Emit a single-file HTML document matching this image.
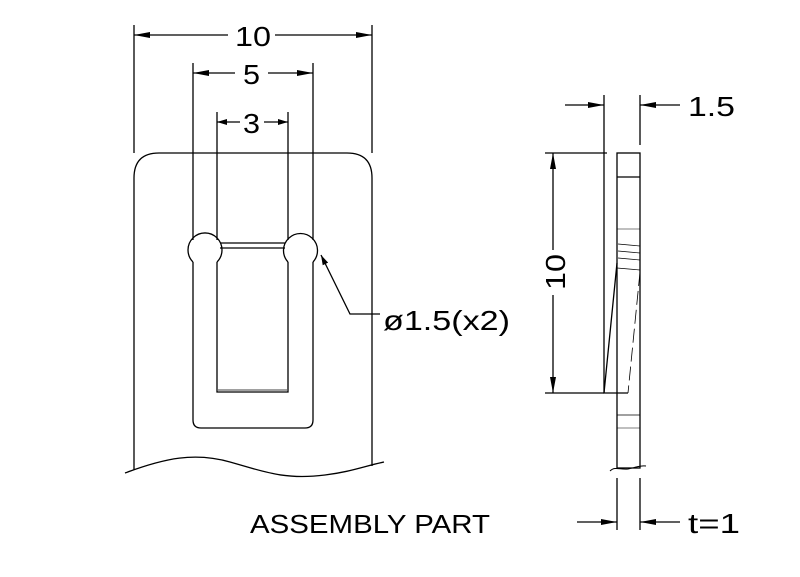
<!DOCTYPE html>
<html><head><style>html,body{margin:0;padding:0;background:#fff}svg{display:block}</style></head><body>
<svg width="800" height="577" viewBox="0 0 800 577" xmlns="http://www.w3.org/2000/svg">
<defs>
<marker id="a" viewBox="0 0 10 6" refX="10" refY="3" markerWidth="10" markerHeight="6" markerUnits="userSpaceOnUse" orient="auto-start-reverse"><path d="M0,0 L10,3 L0,6 Z" fill="#000"/></marker>
<marker id="b" viewBox="0 0 16 6" refX="16" refY="3" markerWidth="16" markerHeight="6" markerUnits="userSpaceOnUse" orient="auto-start-reverse"><path d="M0,0 L16,3 L0,6 Z" fill="#000"/></marker>
</defs>
<g fill="none" stroke="#000" stroke-width="1.3">
<path d="M134,470 L134,178 Q134,153 159,153 L347,153 Q372,153 372,178 L372,466"/>
<path d="M125,473 C165,458 195,452 230,462 C265,472 285,480 325,475 C350,472 365,466 384,462"/>
<line x1="134" y1="25" x2="134" y2="153"/>
<line x1="372" y1="25" x2="372" y2="153"/>
<line x1="193" y1="63" x2="193" y2="240"/>
<line x1="313" y1="63" x2="313" y2="240"/>
<line x1="217" y1="112" x2="217" y2="240"/>
<line x1="288" y1="112" x2="288" y2="240"/>
<line x1="134" y1="35" x2="228" y2="35" marker-start="url(#b)"/>
<line x1="275" y1="35" x2="372" y2="35" marker-end="url(#b)"/>
<line x1="193" y1="73" x2="235" y2="73" marker-start="url(#b)"/>
<line x1="268" y1="73" x2="313" y2="73" marker-end="url(#b)"/>
<line x1="217" y1="122" x2="240" y2="122" marker-start="url(#a)"/>
<line x1="264" y1="122" x2="288" y2="122" marker-end="url(#a)"/>
<path d="M217,262 L217,392 L288,392 L288,262"/>
<line x1="218" y1="390" x2="287" y2="390" stroke-width="0.8"/>
<path d="M193,262 L193,420 Q193,428 201,428 L305,428 Q313,428 313,420 L313,262"/>
<path d="M193,262 A17,17 0 1 1 217,262"/>
<path d="M288,262 A17,17 0 1 1 313,262"/>
<line x1="220" y1="243" x2="285" y2="243"/>
<line x1="220" y1="248" x2="285" y2="248"/>
<polyline points="321,255 350,314 380,314" marker-start="url(#a)"/>
<rect x="617" y="153" width="23" height="315"/>
<line x1="617" y1="177" x2="640" y2="177"/>
<line x1="617" y1="229" x2="640" y2="229" stroke-width="0.6"/>
<line x1="618" y1="244" x2="640" y2="246" stroke-width="0.7"/>
<line x1="618" y1="251" x2="640" y2="253" stroke-width="0.7"/>
<line x1="618" y1="258" x2="640" y2="260" stroke-width="0.7"/>
<line x1="617" y1="268" x2="640" y2="270" stroke-width="0.7"/>
<line x1="617" y1="415" x2="640" y2="415" stroke-width="0.8"/>
<line x1="617" y1="428" x2="640" y2="428" stroke-width="0.6"/>
<path d="M617,263 L604,393 L628,393"/>
<line x1="640" y1="272" x2="628" y2="393" stroke-dasharray="14,5" stroke-width="0.8"/>
<path d="M610,471 C615,466 620,470 628,469 C634,468 640,465 646,466" stroke-width="1"/>
<line x1="604" y1="95" x2="604" y2="393"/>
<line x1="640" y1="95" x2="640" y2="145"/>
<line x1="565" y1="105" x2="604" y2="105" marker-end="url(#b)"/>
<line x1="680" y1="105" x2="640" y2="105" marker-end="url(#b)"/>
<line x1="545" y1="153" x2="607" y2="153"/>
<line x1="545" y1="393" x2="604" y2="393"/>
<line x1="553" y1="153" x2="553" y2="250" marker-start="url(#b)"/>
<line x1="553" y1="295" x2="553" y2="393" marker-end="url(#b)"/>
<line x1="617" y1="478" x2="617" y2="530"/>
<line x1="640" y1="478" x2="640" y2="530"/>
<line x1="577" y1="522" x2="617" y2="522" marker-end="url(#b)"/>
<line x1="680" y1="522" x2="640" y2="522" marker-end="url(#b)"/>
</g>
<g font-family="Liberation Sans, DejaVu Sans, sans-serif" font-size="28" fill="#000" lengthAdjust="spacingAndGlyphs">
<text x="235" y="46" textLength="36" lengthAdjust="spacingAndGlyphs">10</text>
<text x="243" y="84" textLength="17" lengthAdjust="spacingAndGlyphs">5</text>
<text x="243" y="133" textLength="17" lengthAdjust="spacingAndGlyphs">3</text>
<text x="383" y="330" textLength="127" lengthAdjust="spacingAndGlyphs">ø1.5(x2)</text>
<text x="688" y="116" textLength="47" lengthAdjust="spacingAndGlyphs">1.5</text>
<text x="688" y="533" textLength="52" lengthAdjust="spacingAndGlyphs">t=1</text>
<text x="250" y="533" font-size="26" textLength="240" lengthAdjust="spacingAndGlyphs">ASSEMBLY PART</text>
<text transform="translate(565,290) rotate(-90)" textLength="36" lengthAdjust="spacingAndGlyphs">10</text>
</g>
</svg>
</body></html>
